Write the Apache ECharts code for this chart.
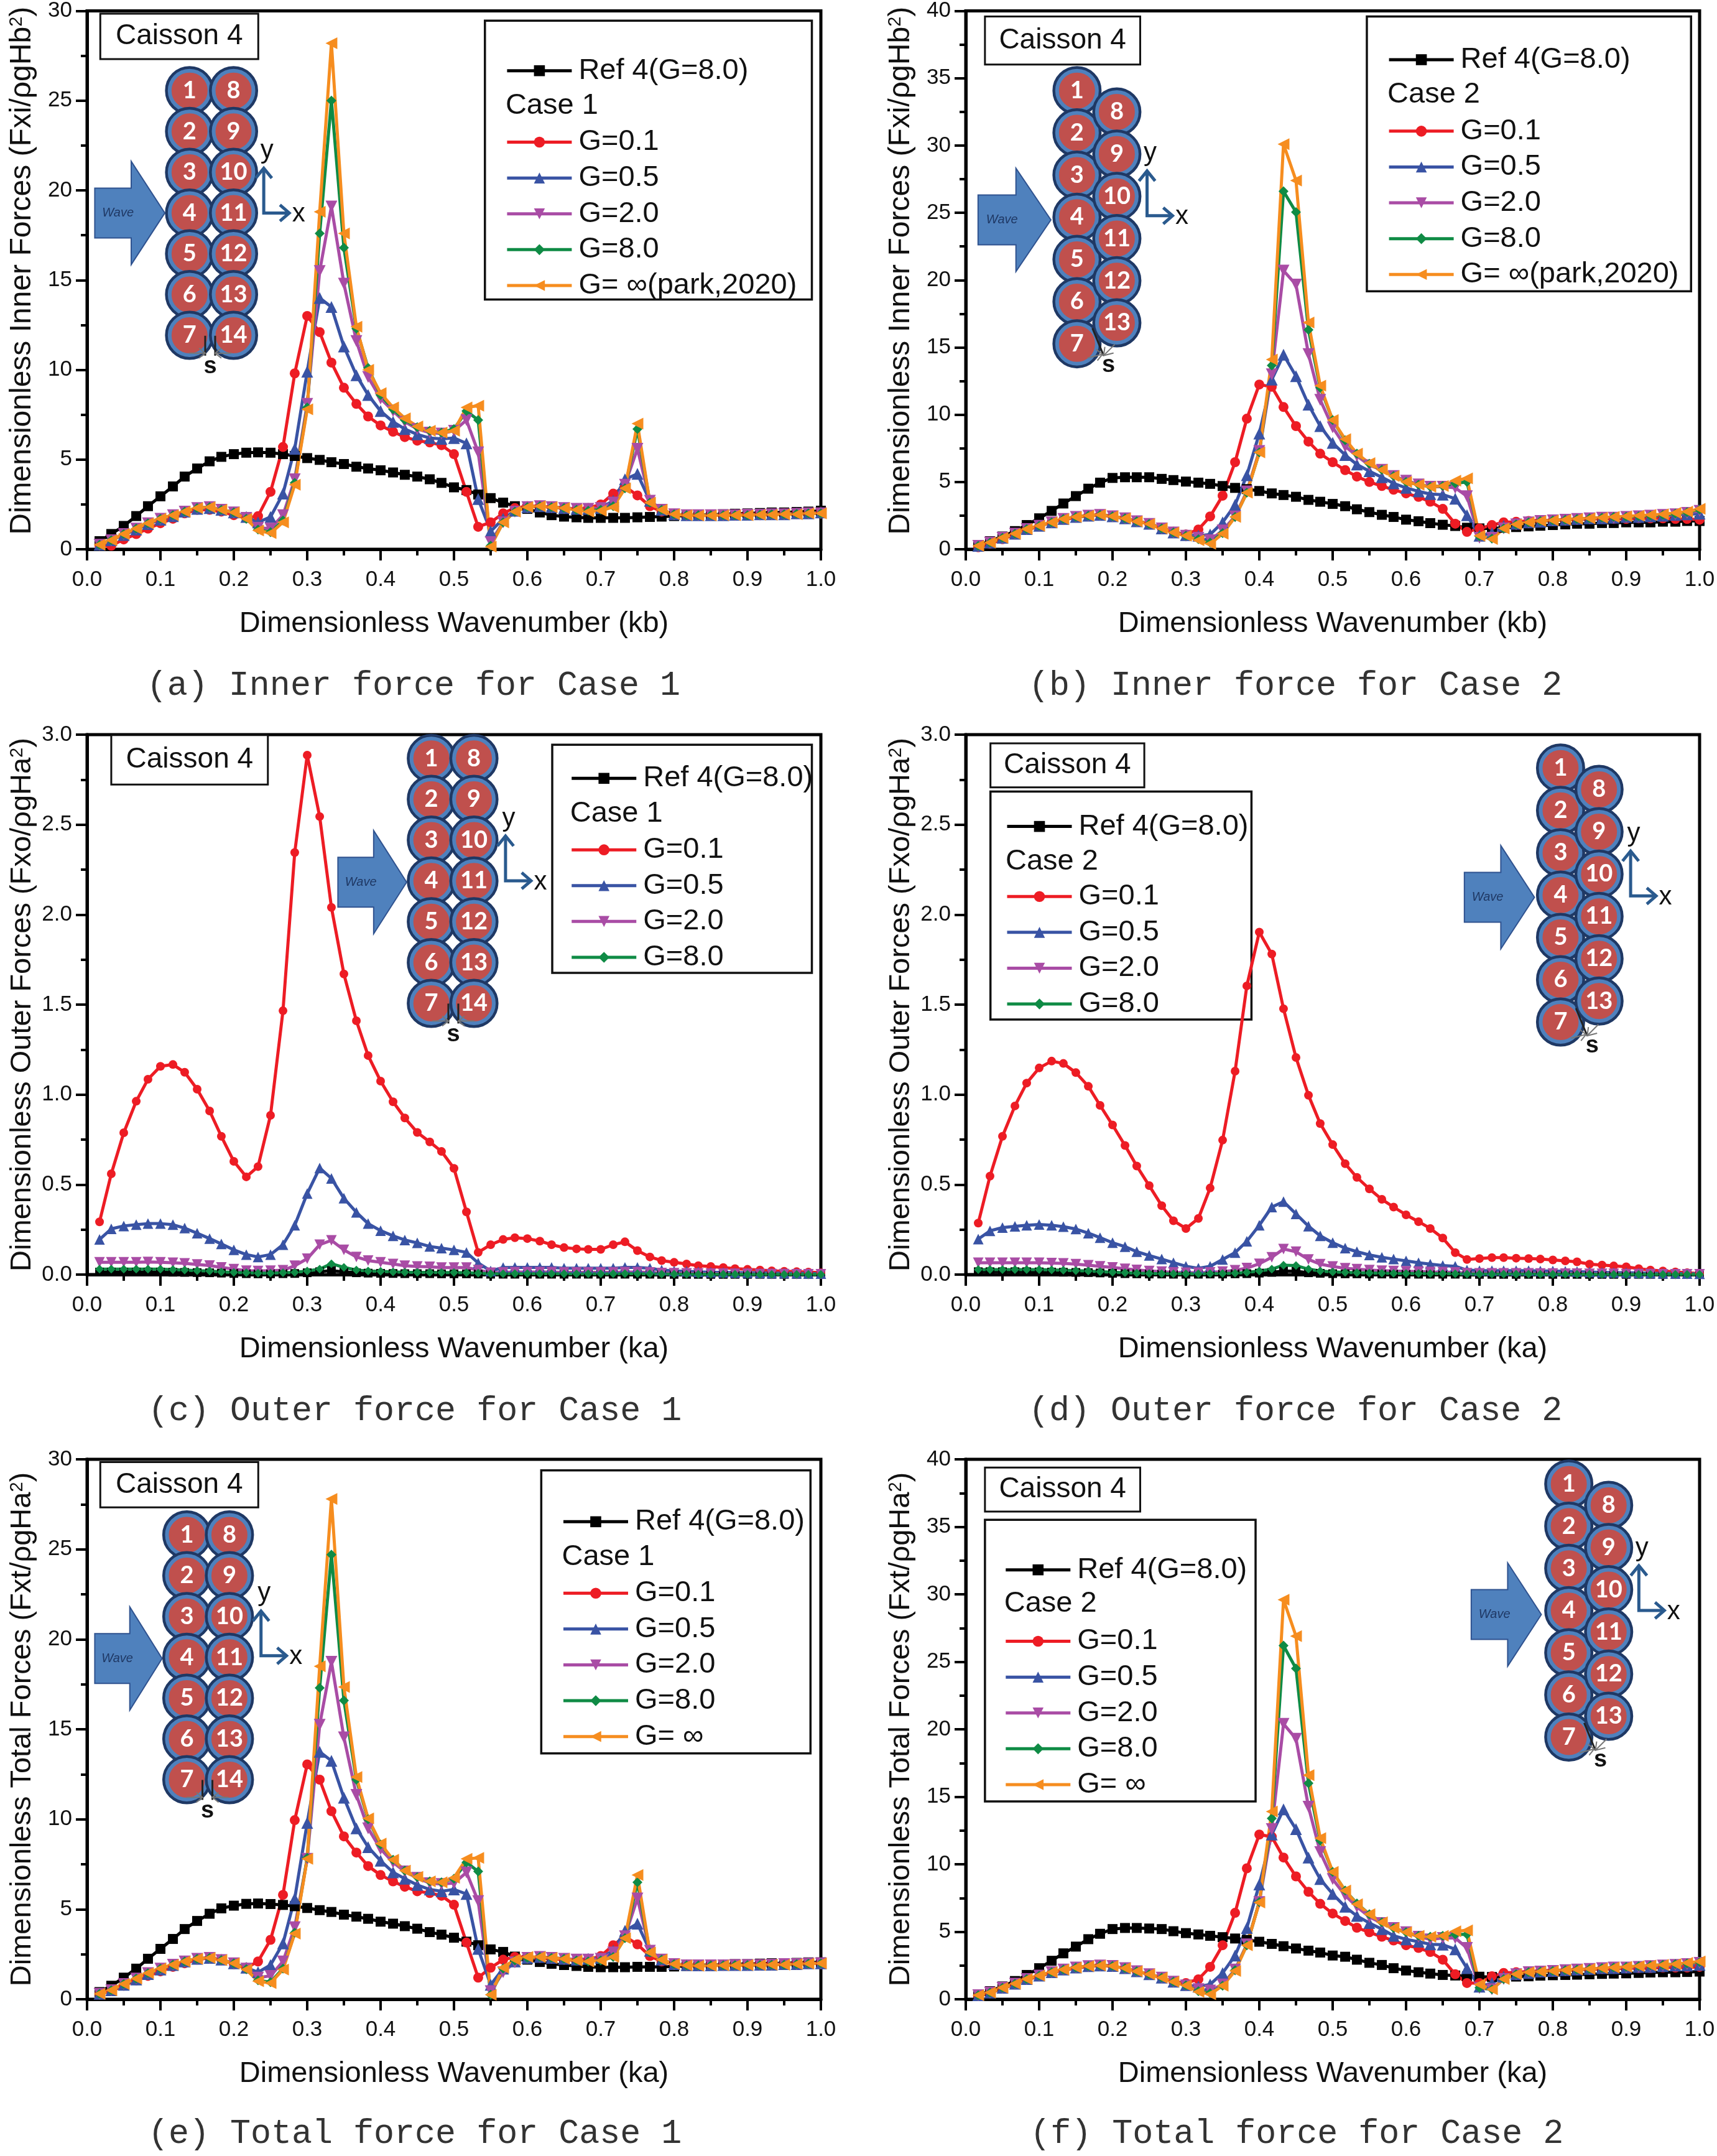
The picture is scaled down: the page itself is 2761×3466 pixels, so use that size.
<!DOCTYPE html>
<html>
<head>
<meta charset="utf-8">
<style>html,body{margin:0;padding:0;background:#fff}#chartWrap{width:2761px;height:3466px}</style>
<script src="https://cdn.jsdelivr.net/npm/echarts@6/dist/echarts.min.js"></script>
</head>
<body>
<div id="chartWrap"></div>
<script>
// wavenumber grid, shared by all panels
var waveNum = [0.017,0.033,0.05,0.067,0.083,0.1,0.117,0.133,0.15,0.167,
  0.183,0.2,0.217,0.233,0.25,0.267,0.283,0.3,0.317,0.333,
  0.35,0.367,0.383,0.4,0.417,0.433,0.45,0.467,0.483,0.5,
  0.517,0.533,0.55,0.567,0.583,0.6,0.617,0.633,0.65,0.667,
  0.683,0.7,0.717,0.733,0.75,0.767,0.783,0.8,0.817,0.833,
  0.85,0.867,0.883,0.9,0.917,0.933,0.95,0.967,0.983,1.0];

// (a) inner force, case 1
var aRef = [.45,.85,1.3,1.85,2.4,2.95,3.5,4.05,4.5,4.9, 5.15,5.3,5.38,5.4,5.38,5.3,5.2,5.08,4.98,4.85, 4.75,4.6,4.5,4.4,4.28,4.15,4.05,3.9,3.7,3.45, 3.3,3.05,2.85,2.6,2.4,2.25,2.05,1.9,1.82,1.78, 1.75,1.75,1.75,1.75,1.78,1.8,1.82,1.85,1.88,1.9, 1.92,1.95,1.98,2.0,2.02,2.05,2.05,2.08,2.1,2.15];
var aG01 = [.2,.2,.55,.85,1.15,1.45,1.7,2.0,2.2,2.2, 2.1,1.9,1.75,1.85,3.2,5.7,9.8,13.0,12.1,10.4, 9.0,8.1,7.4,6.9,6.55,6.25,6.05,5.95,5.8,5.3, 3.2,1.25,1.5,2.0,2.3,2.4,2.4,2.35,2.3,2.25, 2.3,2.5,3.1,3.5,3.0,2.4,2.1,1.95,1.9,1.9, 1.9,1.9,1.95,1.95,1.95,1.95,2.0,2.0,2.0,2.05];
var aG05 = [.25,.5,.8,1.1,1.4,1.65,1.85,2.1,2.25,2.3, 2.2,2.05,1.8,1.5,1.8,3.1,5.6,9.9,14.0,13.5, 11.3,9.7,8.6,7.7,7.1,6.7,6.4,6.2,6.15,6.2, 5.9,2.8,1.0,1.7,2.15,2.35,2.4,2.35,2.3,2.25, 2.25,2.3,2.7,3.9,4.2,2.7,2.2,1.95,1.9,1.9, 1.9,1.9,1.92,1.92,1.95,1.95,1.95,2.0,2.0,2.05];
var aG2 = [.25,.5,.85,1.15,1.45,1.7,1.9,2.1,2.3,2.35, 2.2,2.05,1.75,1.2,1.15,1.9,3.9,8.1,15.5,19.1, 14.8,11.6,9.6,8.4,7.7,7.1,6.7,6.5,6.45,6.6, 7.2,5.4,.4,1.5,2.1,2.35,2.4,2.35,2.3,2.25, 2.25,2.3,2.6,3.6,5.6,2.7,2.2,1.95,1.9,1.9, 1.9,1.9,1.9,1.92,1.92,1.95,1.95,1.98,2.0,2.0];
var aG8 = [.25,.5,.85,1.15,1.45,1.7,1.9,2.1,2.3,2.35, 2.2,2.05,1.7,1.1,.95,1.6,3.7,7.9,17.6,25.0, 16.8,12.3,10.1,8.6,7.8,7.2,6.8,6.6,6.5,6.7, 7.7,7.2,.2,1.5,2.1,2.35,2.4,2.35,2.3,2.2, 2.15,2.2,2.4,3.4,6.7,2.6,2.2,1.95,1.9,1.9, 1.9,1.9,1.9,1.9,1.92,1.95,1.95,1.98,2.0,2.0];
var aGinf = [.25,.5,.85,1.15,1.45,1.7,1.9,2.1,2.3,2.35, 2.2,2.05,1.7,1.05,.9,1.5,3.6,7.8,18.8,28.2, 17.6,12.4,10.0,8.7,7.9,7.3,6.85,6.6,6.5,6.6, 7.9,8.0,.15,1.5,2.1,2.35,2.4,2.35,2.3,2.2, 2.1,2.15,2.35,3.4,7.0,2.6,2.2,1.95,1.9,1.88, 1.88,1.9,1.9,1.9,1.92,1.92,1.95,1.95,2.0,2.0];

// (b) inner force, case 2
var bRef = [.3,.6,.95,1.35,1.8,2.3,2.85,3.4,3.95,4.5, 4.95,5.3,5.35,5.35,5.35,5.23,5.14,5.03,4.95,4.86, 4.7,4.56,4.47,4.33,4.15,4.03,3.9,3.67,3.53,3.37, 3.2,2.97,2.76,2.56,2.4,2.2,2.08,1.94,1.82,1.73, 1.6,1.55,1.55,1.6,1.65,1.7,1.75,1.8,1.85,1.9, 1.9,1.95,1.95,2.0,2.0,2.0,2.05,2.05,2.1,2.1];
var bG01 = [.15,.4,.75,1.1,1.45,1.7,2.0,2.2,2.35,2.5, 2.55,2.45,2.3,2.1,1.9,1.6,1.3,1.1,1.47,2.44, 3.98,6.47,9.7,12.24,12.07,10.57,9.15,8.0,7.1,6.47, 5.88,5.4,5.0,4.7,4.42,4.15,3.89,3.53,3.0,1.9, 1.29,1.55,1.8,2.0,2.05,2.1,2.15,2.15,2.2,2.2, 2.25,2.25,2.25,2.25,2.3,2.3,2.3,2.25,2.25,2.2];
var bG05 = [.25,.5,.85,1.15,1.5,1.75,2.0,2.25,2.4,2.5, 2.55,2.45,2.3,2.08,1.9,1.55,1.25,1.05,1.0,1.1, 2.0,3.3,5.5,8.6,12.6,14.45,12.86,10.74,9.15,7.9, 7.0,6.3,5.8,5.35,4.9,4.56,4.3,4.1,4.06,3.76, 2.53,1.0,1.2,1.73,1.9,2.0,2.05,2.15,2.2,2.25, 2.3,2.3,2.35,2.4,2.4,2.45,2.5,2.55,2.6,2.65];
var bG2 = [.25,.5,.85,1.15,1.5,1.75,2.0,2.25,2.4,2.5, 2.55,2.45,2.3,2.08,1.88,1.55,1.25,1.0,.85,.67, 1.4,2.44,4.3,7.3,13.0,20.7,19.66,14.5,11.1,9.06, 7.65,6.94,6.24,5.9,5.44,5.1,4.82,4.65,4.65,4.56, 3.94,.85,.85,1.55,1.85,2.0,2.1,2.15,2.2,2.25, 2.3,2.35,2.35,2.4,2.45,2.5,2.55,2.6,2.7,2.85];
var bG8 = [.25,.5,.85,1.15,1.5,1.75,2.0,2.25,2.4,2.5, 2.55,2.45,2.3,2.08,1.88,1.55,1.25,1.0,.75,.5, 1.2,2.4,4.2,7.2,13.66,26.6,25.05,16.3,12.0,9.6, 8.1,7.1,6.35,5.9,5.44,5.0,4.8,4.65,4.7,4.9, 5.0,.95,.8,1.55,1.85,2.0,2.1,2.15,2.2,2.25, 2.3,2.35,2.4,2.42,2.45,2.5,2.55,2.65,2.75,2.95];
var bGinf = [.25,.5,.85,1.15,1.5,1.75,2.0,2.25,2.4,2.5, 2.55,2.45,2.3,2.07,1.88,1.55,1.25,1.0,.67,.4, 1.15,2.4,4.2,7.2,14.1,30.1,27.4,16.84,12.16,9.6, 8.18,7.1,6.4,5.9,5.44,5.0,4.8,4.65,4.7,5.1, 5.27,1.0,.76,1.55,1.85,2.0,2.1,2.15,2.2,2.25, 2.3,2.35,2.4,2.45,2.5,2.55,2.6,2.7,2.8,3.0];

// (c) outer force, case 1
var cRef = [.014,.014,.014,.014,.014,.014,.013,.012,.011,.01, .008,.006,.005,.004,.004,.005,.006,.01,.016,.022, .015,.01,.008,.007,.006,.005,.005,.005,.004,.004, .004,.003,.002,.002,.002,.002,.002,.002,.002,.002, .002,.002,.002,.002,.002,.002,.001,.001,.001,.001, .001,.001,.001,.001,.001,.001,.001,.001,.001,.001];
var cG01 = [.293,.56,.788,.963,1.085,1.157,1.167,1.124,1.03,.909, .768,.629,.543,.6,.885,1.466,2.345,2.886,2.545,2.04, 1.67,1.41,1.217,1.075,.96,.87,.79,.737,.684,.59, .348,.123,.166,.195,.205,.2,.186,.166,.15,.143, .14,.14,.166,.182,.133,.098,.078,.068,.059,.049, .045,.039,.033,.029,.025,.021,.018,.016,.014,.01];
var cG05 = [.195,.254,.27,.277,.283,.283,.277,.258,.23,.2, .17,.137,.111,.098,.111,.166,.274,.45,.592,.534, .424,.346,.283,.244,.215,.192,.176,.156,.147,.137, .123,.064,.02,.039,.04,.04,.04,.04,.035,.035, .035,.035,.035,.04,.04,.035,.025,.02,.018,.015, .013,.012,.01,.01,.009,.008,.008,.007,.006,.005];
var cG2 = [.068,.068,.068,.068,.07,.068,.066,.062,.056,.05, .04,.03,.022,.02,.022,.024,.049,.088,.166,.19, .137,.098,.078,.068,.059,.049,.045,.043,.039,.039, .039,.025,.01,.012,.014,.014,.014,.014,.012,.012, .012,.012,.012,.014,.014,.012,.009,.008,.007,.006, .005,.005,.004,.004,.003,.003,.003,.002,.002,.002];
var cG8 = [.03,.03,.03,.03,.03,.03,.028,.025,.022,.02, .015,.012,.01,.008,.008,.01,.012,.02,.03,.06, .04,.025,.02,.018,.015,.013,.012,.012,.011,.011, .01,.008,.004,.004,.005,.005,.005,.005,.004,.004, .004,.004,.004,.005,.005,.004,.003,.003,.002,.002, .002,.002,.002,.001,.001,.001,.001,.001,.001,.001];

// (d) outer force, case 2
var dRef = [.016,.016,.016,.016,.016,.015,.014,.013,.012,.011, .009,.007,.005,.004,.003,.003,.002,.002,.002,.003, .003,.004,.005,.008,.012,.02,.018,.01,.007,.005, .004,.004,.003,.003,.003,.002,.002,.002,.002,.002, .001,.001,.001,.001,.001,.001,.001,.001,.001,.001, .001,.001,.001,.001,.001,.001,.001,.001,.001,.001];
var dG01 = [.286,.547,.768,.937,1.064,1.148,1.186,1.173,1.122,1.046, .94,.831,.717,.603,.494,.383,.299,.256,.312,.481, .747,1.13,1.604,1.903,1.781,1.477,1.206,.996,.839,.722, .616,.54,.476,.418,.375,.332,.294,.256,.203,.122, .084,.089,.094,.094,.091,.089,.086,.081,.076,.071, .058,.053,.048,.043,.033,.025,.02,.015,.01,.005];
var dG05 = [.197,.243,.261,.268,.274,.278,.274,.266,.253,.23, .205,.177,.155,.127,.106,.086,.066,.046,.035,.046, .084,.122,.185,.274,.375,.405,.337,.269,.215,.177, .147,.127,.109,.096,.086,.076,.066,.058,.05,.046, .025,.022,.022,.022,.022,.022,.02,.02,.018,.016, .014,.012,.011,.01,.009,.008,.007,.006,.005,.004];
var dG2 = [.066,.066,.066,.066,.066,.066,.064,.062,.058,.052, .046,.04,.032,.026,.02,.016,.012,.01,.01,.012, .016,.024,.036,.06,.096,.142,.127,.084,.058,.045, .035,.03,.025,.022,.02,.018,.016,.015,.014,.012, .008,.007,.007,.007,.007,.007,.006,.006,.005,.005, .004,.004,.004,.003,.003,.003,.002,.002,.002,.002];
var dG8 = [.028,.028,.028,.028,.028,.028,.026,.024,.022,.02, .016,.013,.01,.008,.006,.005,.004,.004,.004,.005, .006,.008,.012,.02,.03,.052,.05,.03,.02,.015, .012,.01,.009,.008,.007,.006,.006,.005,.005,.004, .003,.003,.003,.003,.003,.003,.002,.002,.002,.002, .002,.001,.001,.001,.001,.001,.001,.001,.001,.001];

// (e) total force, case 1
var eRef = [.4,.75,1.2,1.7,2.25,2.8,3.35,3.9,4.35,4.75, 5.05,5.2,5.3,5.32,5.29,5.24,5.17,5.07,4.95,4.85, 4.7,4.59,4.47,4.31,4.2,4.06,3.92,3.73,3.59,3.42, 3.2,3.0,2.77,2.63,2.37,2.2,2.07,1.97,1.9,1.85, 1.8,1.78,1.78,1.78,1.8,1.8,1.8,1.82,1.85,1.88, 1.9,1.92,1.95,1.95,1.98,2.0,2.0,2.02,2.05,2.05];
var eG01 = [.3,.45,.75,1.05,1.3,1.55,1.8,2.0,2.2,2.3, 2.2,1.95,1.75,2.1,3.3,5.8,9.95,13.05,12.2,10.45, 9.05,8.15,7.4,6.9,6.55,6.25,6.0,5.9,5.75,5.25, 3.15,1.2,1.75,2.2,2.35,2.35,2.3,2.25,2.2,2.15, 2.2,2.4,3.0,3.5,3.05,2.4,2.1,1.95,1.9,1.9, 1.9,1.9,1.92,1.92,1.95,1.95,1.95,2.0,2.0,2.0];
var eG05 = [.3,.5,.8,1.1,1.4,1.65,1.9,2.1,2.25,2.3, 2.2,2.0,1.75,1.5,1.9,3.1,5.6,9.8,13.75,13.25, 11.2,9.5,8.45,7.7,7.05,6.7,6.35,6.1,6.0,6.1, 5.85,2.8,.8,1.7,2.1,2.3,2.35,2.3,2.25,2.2, 2.25,2.3,2.7,3.8,4.2,2.7,2.2,1.95,1.9,1.88, 1.88,1.9,1.9,1.9,1.92,1.92,1.95,1.95,2.0,2.0];
var eG2 = [.3,.5,.85,1.15,1.45,1.7,1.92,2.1,2.25,2.3, 2.18,2.0,1.7,1.2,1.3,2.1,4.0,7.8,15.25,18.75, 14.55,11.35,9.5,8.35,7.6,7.1,6.75,6.45,6.4,6.45, 7.05,5.45,.45,1.5,2.05,2.3,2.35,2.3,2.25,2.2, 2.2,2.25,2.6,3.5,5.6,2.7,2.2,1.95,1.88,1.88, 1.88,1.88,1.9,1.9,1.9,1.92,1.95,1.95,1.98,2.0];
var eG8 = [.3,.5,.85,1.15,1.45,1.7,1.92,2.1,2.25,2.3, 2.18,2.0,1.68,1.05,.95,1.7,3.7,7.85,17.3,24.7, 16.6,12.2,10.0,8.6,7.75,7.15,6.78,6.55,6.5,6.7, 7.6,7.1,.25,1.7,2.15,2.3,2.35,2.3,2.25,2.15, 2.1,2.15,2.35,3.4,6.5,2.6,2.2,1.95,1.88,1.88, 1.88,1.88,1.9,1.9,1.9,1.92,1.92,1.95,1.98,2.0];
var eGinf = [.3,.5,.85,1.15,1.45,1.7,1.92,2.1,2.25,2.3, 2.18,2.0,1.65,1.0,.9,1.65,3.65,7.8,18.5,27.8, 17.35,12.35,10.05,8.65,7.75,7.15,6.8,6.55,6.5,6.75, 7.8,7.85,.25,1.75,2.2,2.35,2.35,2.3,2.25,2.15, 2.1,2.15,2.35,3.4,6.9,2.6,2.2,1.95,1.88,1.86, 1.86,1.88,1.88,1.9,1.9,1.92,1.92,1.95,1.98,2.0];

// (f) total force, case 2
var fRef = [.3,.6,.95,1.35,1.8,2.3,2.85,3.4,3.9,4.45, 4.85,5.2,5.28,5.28,5.24,5.2,5.04,4.9,4.8,4.7, 4.6,4.5,4.4,4.26,4.1,3.93,3.76,3.6,3.46,3.24, 3.15,2.93,2.7,2.54,2.3,2.13,2.0,1.9,1.8,1.76, 1.7,1.67,1.65,1.65,1.68,1.7,1.75,1.78,1.8,1.82, 1.85,1.88,1.9,1.92,1.95,1.98,2.0,2.0,2.02,2.05];
var fG01 = [.25,.45,.8,1.1,1.45,1.7,1.95,2.15,2.3,2.42, 2.5,2.46,2.3,2.07,1.85,1.6,1.3,1.2,1.48,2.4, 4.0,6.4,9.7,12.2,12.04,10.5,9.1,7.96,7.07,6.35, 5.8,5.3,4.96,4.63,4.35,4.0,3.8,3.5,2.93,1.85, 1.2,1.2,1.7,1.95,2.0,2.05,2.1,2.15,2.15,2.2, 2.2,2.25,2.25,2.3,2.3,2.3,2.35,2.35,2.35,2.4];
var fG05 = [.3,.5,.85,1.15,1.5,1.75,2.0,2.2,2.35,2.45, 2.5,2.46,2.3,2.07,1.85,1.6,1.3,1.05,.93,1.1, 1.94,3.24,5.28,8.5,12.2,14.07,12.6,10.5,8.9,7.8, 6.85,6.17,5.65,5.2,4.7,4.44,4.26,4.07,4.04,3.7, 2.3,.93,1.2,1.67,1.85,1.95,2.05,2.1,2.15,2.2, 2.25,2.3,2.3,2.35,2.4,2.4,2.45,2.5,2.5,2.55];
var fG2 = [.3,.5,.85,1.15,1.5,1.75,2.0,2.2,2.35,2.45, 2.5,2.46,2.3,2.07,1.85,1.6,1.3,1.02,.75,.65, 1.1,2.2,4.07,7.2,12.6,20.4,19.3,14.26,10.9,8.9, 7.7,6.85,6.1,5.65,5.28,4.96,4.63,4.44,4.54,4.54, 3.8,.83,.74,1.5,1.85,2.0,2.05,2.1,2.15,2.2, 2.25,2.3,2.35,2.35,2.4,2.45,2.5,2.55,2.6,2.7];
var fG8 = [.3,.5,.85,1.15,1.5,1.75,2.0,2.2,2.35,2.45, 2.5,2.46,2.3,2.07,1.85,1.6,1.3,1.02,.6,.45, 1.0,2.15,4.0,7.2,13.4,26.2,24.5,16.0,11.76,9.44, 8.05,7.1,6.3,5.7,5.28,4.96,4.7,4.63,4.7,4.8, 4.8,.85,.74,1.5,1.85,2.0,2.05,2.1,2.15,2.2, 2.25,2.3,2.35,2.4,2.45,2.5,2.55,2.6,2.65,2.75];
var fGinf = [.3,.5,.85,1.15,1.5,1.75,2.0,2.2,2.35,2.45, 2.5,2.46,2.3,2.07,1.85,1.6,1.3,1.02,.55,.37, 1.0,2.1,4.0,7.17,13.9,29.6,26.9,16.6,11.94,9.44, 8.05,7.04,6.3,5.7,5.28,4.96,4.7,4.63,4.7,5.04, 5.1,1.1,.74,1.5,1.85,2.0,2.05,2.1,2.15,2.2, 2.25,2.3,2.35,2.4,2.45,2.5,2.55,2.6,2.7,2.8];

var NAME_REF = 'Ref 4(G=8.0)', NAME_01 = 'G=0.1', NAME_05 = 'G=0.5', NAME_2 = 'G=2.0', NAME_8 = 'G=8.0';
var NAME_INF_P = 'G= \u221E(park,2020)', NAME_INF = 'G= \u221E';

var styles = {};
styles[NAME_REF] = {color:'#000000', symbol:'rect', rotate:0};
styles[NAME_01] = {color:'#ED1C24', symbol:'circle', rotate:0};
styles[NAME_05] = {color:'#3953A4', symbol:'triangle', rotate:0};
styles[NAME_2] = {color:'#A94CA5', symbol:'triangle', rotate:180};
styles[NAME_8] = {color:'#0F8B45', symbol:'diamond', rotate:0};
styles[NAME_INF_P] = {color:'#F68D1F', symbol:'triangle', rotate:90};
styles[NAME_INF] = {color:'#F68D1F', symbol:'triangle', rotate:90};

var FONT = '"Liberation Sans", Arial, sans-serif';
var S = 2.209; // coordinates below were read from a 1250px wide view of the figure

var panels = [
  {cap:'(a) Inner force for Case 1', capX:301, capY:499, left:140, top:15, bottom:883, yMax:30, yStep:5, dec:0, yFont:48, yShift:30,
   yName:'Dimensionless Inner Forces (Fxi/\u03C1gHb{s|2})', xName:'Dimensionless Wavenumber (kb)', caseName:'Case 1',
   series:[[NAME_REF,aRef],[NAME_01,aG01],[NAME_05,aG05],[NAME_2,aG2],[NAME_8,aG8],[NAME_INF_P,aGinf]],
   box:[73,10,188,43], leg:[353,15,591,218], rows:[51,77,103,128,155,181,206], lineX:368,
   dia:{x1:138,x2:170,y0:66,dy:29.67,off:0,arrL:69,arrT:120,arrY:155,axX:192,axY:155,sX:153,sY:267}},
  {cap:'(b) Inner force for Case 2', capX:943, capY:499, left:1553, top:15, bottom:883, yMax:40, yStep:5, dec:0, yFont:48, yShift:30,
   yName:'Dimensionless Inner Forces (Fxi/\u03C1gHb{s|2})', xName:'Dimensionless Wavenumber (kb)', caseName:'Case 2',
   series:[[NAME_REF,bRef],[NAME_01,bG01],[NAME_05,bG05],[NAME_2,bG2],[NAME_8,bG8],[NAME_INF_P,bGinf]],
   box:[717,12,830,47], leg:[995,12,1231,212], rows:[43,69,95,121,146,173,199], lineX:1010,
   dia:{x1:784,x2:813,y0:66,dy:30.7,off:15.5,arrL:712,arrT:765,arrY:160,axX:835,axY:157,sX:807,sY:266}},
  {cap:'(c) Outer force for Case 1', capX:302, capY:1027, left:140, top:1181, bottom:2049, yMax:3, yStep:0.5, dec:1, yFont:47, yShift:0,
   yName:'Dimensionless Outer Forces (Fxo/\u03C1gHa{s|2})', xName:'Dimensionless Wavenumber (ka)', caseName:'Case 1',
   series:[[NAME_REF,cRef],[NAME_01,cG01],[NAME_05,cG05],[NAME_2,cG2],[NAME_8,cG8]],
   box:[81,535,195,571], leg:[402,542,591,708], rows:[566,592,618,643,669,695], lineX:415,
   dia:{x1:314,x2:345,y0:552,dy:29.7,off:0,arrL:246,arrT:296,arrY:642,axX:368,axY:641,sX:330,sY:753}},
  {cap:'(d) Outer force for Case 2', capX:943, capY:1027, left:1553, top:1181, bottom:2049, yMax:3, yStep:0.5, dec:1, yFont:47, yShift:0,
   yName:'Dimensionless Outer Forces (Fxo/\u03C1gHa{s|2})', xName:'Dimensionless Wavenumber (ka)', caseName:'Case 2',
   series:[[NAME_REF,dRef],[NAME_01,dG01],[NAME_05,dG05],[NAME_2,dG2],[NAME_8,dG8]],
   box:[721,541,833,573], leg:[721,576,911,742], rows:[601,627,652,678,704,730], lineX:732,
   dia:{x1:1136,x2:1164,y0:559,dy:30.8,off:15.5,arrL:1066,arrT:1117,arrY:653,axX:1187,axY:652,sX:1159,sY:761}},
  {cap:'(e) Total force for Case 1', capX:302, capY:1553, left:140, top:2346, bottom:3214, yMax:30, yStep:5, dec:0, yFont:47, yShift:0,
   yName:'Dimensionless Total Forces (Fxt/\u03C1gHa{s|2})', xName:'Dimensionless Wavenumber (ka)', caseName:'Case 1',
   series:[[NAME_REF,eRef],[NAME_01,eG01],[NAME_05,eG05],[NAME_2,eG2],[NAME_8,eG8],[NAME_INF,eGinf]],
   box:[73,1064,188,1097], leg:[394,1070,590,1276], rows:[1107,1133,1159,1184,1210,1237,1263], lineX:409,
   dia:{x1:136,x2:167,y0:1117,dy:29.7,off:0,arrL:69,arrT:118,arrY:1207,axX:190,axY:1205,sX:151,sY:1318}},
  {cap:'(f) Total force for Case 2', capX:944, capY:1553, left:1553, top:2346, bottom:3214, yMax:40, yStep:5, dec:0, yFont:47, yShift:0,
   yName:'Dimensionless Total Forces (Fxt/\u03C1gHa{s|2})', xName:'Dimensionless Wavenumber (ka)', caseName:'Case 2',
   series:[[NAME_REF,fRef],[NAME_01,fG01],[NAME_05,fG05],[NAME_2,fG2],[NAME_8,fG8],[NAME_INF,fGinf]],
   box:[717,1068,830,1100], leg:[717,1106,914,1311], rows:[1142,1167,1194,1219,1245,1271,1297], lineX:731,
   dia:{x1:1142,x2:1171,y0:1080,dy:30.7,off:15.5,arrL:1071,arrT:1122,arrY:1175,axX:1193,axY:1172,sX:1165,sY:1281}}
];

var PLOT_W = 1180;
var grids = [], xAxes = [], yAxes = [], seriesList = [], legends = [], elems = [];

function addText(x, y, str, size, color, weight, style, family, align) {
  elems.push({type:'text', z:12, x:x, y:y, style:{text:str, fontSize:size, fill:color, fontWeight:weight||'normal',
    fontStyle:style||'normal', fontFamily:family||FONT, textAlign:align||'center', textVerticalAlign:'middle'}});
}

function addLine(pts, color, w) {
  elems.push({type:'polyline', z:11, shape:{points:pts}, style:{stroke:color, lineWidth:w, fill:null}});
}

// caisson sketch: two columns of circles, wave arrow, x-y axes and the gap mark
function addDiagram(d) {
  var i, k, cx, cy, n, Blue = '#4F81BD', Dark = '#1F3864', axC = '#2A5A8E';
  var a = d.arrL*S, t = d.arrT*S, y = d.arrY*S, neck = t-(d.arrT-d.arrL)*S*0.48;
  elems.push({type:'polygon', z:10, shape:{points:[[a,y-40],[neck,y-40],[neck,y-83],[t,y],[neck,y+83],[neck,y+40],[a,y+40]]},
    style:{fill:Blue, stroke:'#2F528F', lineWidth:2}});
  addText((a+neck)/2+8, y, 'Wave', 20, '#1F3864', 'normal', 'italic');
  for (k = 0; k < 2; k++) {
    for (i = 0; i < (k == 0 || d.off == 0 ? 7 : 6); i++) {
      cx = (k == 0 ? d.x1 : d.x2)*S;
      cy = (d.y0 + i*d.dy + (k == 1 ? d.off : 0))*S;
      n = k == 0 ? i+1 : i+8;
      elems.push({type:'circle', z:10, shape:{cx:cx, cy:cy, r:36}, style:{fill:'#C0504D', stroke:Dark, lineWidth:7}});
      elems.push({type:'circle', z:10, shape:{cx:cx, cy:cy, r:32}, style:{fill:'#C0504D', stroke:Blue, lineWidth:6}});
      addText(cx, cy, String(n), 38, '#FFFFFF', 'bold', 'normal', 'Lato');
    }
  }
  // x-y axes
  var ox = d.axX*S, oy = d.axY*S;
  addLine([[ox,oy-72],[ox,oy],[ox+40,oy]], axC, 5);
  addLine([[ox-13,oy-56],[ox,oy-72],[ox+13,oy-56]], axC, 5);
  addLine([[ox+26,oy-13],[ox+41,oy],[ox+26,oy+13]], axC, 5);
  addText(ox+5, oy-100, 'y', 42, '#111');
  addText(ox+56, oy+2, 'x', 42, '#111');
  // gap mark
  var sx = d.sX*S, sy = d.sY*S;
  if (d.off == 0) {
    addLine([[sx-8,sy-50],[sx-8,sy-18]], '#222', 3);
    addLine([[sx+8,sy-50],[sx+8,sy-18]], '#222', 3);
    addLine([[sx-34,sy-22],[sx-8,sy-22]], '#777', 2);
    addLine([[sx+34,sy-22],[sx+8,sy-22]], '#777', 2);
    addLine([[sx-18,sy-30],[sx-8,sy-22],[sx-18,sy-14]], '#777', 2);
    addLine([[sx+18,sy-30],[sx+8,sy-22],[sx+18,sy-14]], '#777', 2);
  } else {
    addLine([[sx-26,sy-60],[sx-8,sy-16]], '#222', 3);
    addLine([[sx-8,sy-16],[sx+10,sy-34]], '#777', 2);
    addLine([[sx-34,sy-12],[sx-10,sy-18]], '#777', 2);
    addLine([[sx-20,sy-26],[sx-10,sy-18],[sx-18,sy-8]], '#777', 2);
    addLine([[sx+8,sy-20],[sx-8,sy-16],[sx-6,sy-30]], '#777', 2);
  }
  addText(sx, sy, 's', 38, '#111', 'bold');
}

panels.forEach(function (p, idx) {
  grids.push({left:p.left, top:p.top, width:PLOT_W, height:p.bottom-p.top, show:true, borderColor:'#000', borderWidth:5, backgroundColor:'transparent'});
  xAxes.push({type:'value', gridIndex:idx, min:0, max:1, interval:0.1, name:p.xName, nameLocation:'middle', nameGap:97,
    nameTextStyle:{fontSize:47, fontFamily:FONT, color:'#111'},
    axisLine:{lineStyle:{color:'#000', width:5}, onZero:false},
    axisTick:{show:true, length:18, inside:false, lineStyle:{color:'#000', width:4}},
    minorTick:{show:true, splitNumber:2, length:10, lineStyle:{color:'#000', width:4}},
    splitLine:{show:false},
    axisLabel:{fontSize:35, fontFamily:FONT, color:'#111', margin:32, formatter:function (v) {return v.toFixed(1);}}});
  yAxes.push({type:'value', gridIndex:idx, min:0, max:p.yMax, interval:p.yStep, name:p.yName, nameLocation:'middle', nameGap:80,
    nameTextStyle:{fontSize:p.yFont, fontFamily:FONT, color:'#111', padding:[0,0,0,p.yShift],
      rich:{s:{fontSize:29, fontFamily:FONT, color:'#111', verticalAlign:'top', lineHeight:p.yFont}}},
    axisLine:{lineStyle:{color:'#000', width:5}, onZero:false},
    axisTick:{show:true, length:18, inside:false, lineStyle:{color:'#000', width:4}},
    minorTick:{show:true, splitNumber:2, length:10, lineStyle:{color:'#000', width:4}},
    splitLine:{show:false},
    axisLabel:{fontSize:35, fontFamily:FONT, color:'#111', margin:24, formatter:function (v) {return v.toFixed(p.dec);}}});

  var big = p.dec == 0 ? 16 : 14;
  var names = [];
  p.series.forEach(function (pair) {
    var st = styles[pair[0]];
    names.push(pair[0]);
    seriesList.push({type:'line', name:pair[0], xAxisIndex:idx, yAxisIndex:idx,
      data:pair[1].map(function (v, i) {return [waveNum[i], v];}),
      symbol:st.symbol, symbolRotate:st.rotate, symbolSize:st.symbol == 'triangle' ? big+3 : big, showSymbol:true, showAllSymbol:true,
      lineStyle:{color:st.color, width:5}, itemStyle:{color:st.color, borderWidth:0}, emphasis:{disabled:true}, animation:false});
  });

  // legend frame and the two legend blocks with the case label between them
  var L = p.leg;
  elems.push({type:'rect', z:3, shape:{x:L[0]*S, y:L[1]*S, width:(L[2]-L[0])*S, height:(L[3]-L[1])*S}, style:{fill:'transparent', stroke:'#111', lineWidth:3.5}});
  var legText = {fontSize:47, lineHeight:52, fontFamily:FONT, color:'#111', padding:[0,0,0,6]};
  legends.push({data:[names[0]], orient:'vertical', left:p.lineX*S, top:p.rows[0]*S - 25, padding:0, itemWidth:104, itemHeight:22, itemGap:7,
    selectedMode:false, lineStyle:{width:5}, textStyle:legText});
  legends.push({data:names.slice(1), orient:'vertical', left:p.lineX*S, top:p.rows[2]*S - 25, padding:0, itemWidth:104, itemHeight:22, itemGap:5.6,
    selectedMode:false, lineStyle:{width:5}, textStyle:legText});
  addText(p.lineX*S, p.rows[1]*S, p.caseName, 47, '#111', 'normal', 'normal', FONT, 'left');

  // Caisson label
  var B = p.box;
  elems.push({type:'rect', z:9, shape:{x:B[0]*S, y:B[1]*S, width:(B[2]-B[0])*S, height:(B[3]-B[1])*S}, style:{fill:'#fff', stroke:'#111', lineWidth:3}});
  addText((B[0]+B[2])/2*S, (B[1]+B[3])/2*S, 'Caisson 4', 46, '#111');

  addDiagram(p.dia);
  addText(p.capX*S, p.capY*S, p.cap, 55, '#333', 'normal', 'normal', '"Liberation Mono", monospace');
});

var myChart = echarts.init(document.getElementById('chartWrap'), null, {renderer:'canvas'});
myChart.setOption({
  animation:false,
  backgroundColor:'#ffffff',
  tooltip:{show:false},
  grid:grids,
  xAxis:xAxes,
  yAxis:yAxes,
  legend:legends,
  graphic:{elements:elems},
  series:seriesList
});
</script>
</body>
</html>
